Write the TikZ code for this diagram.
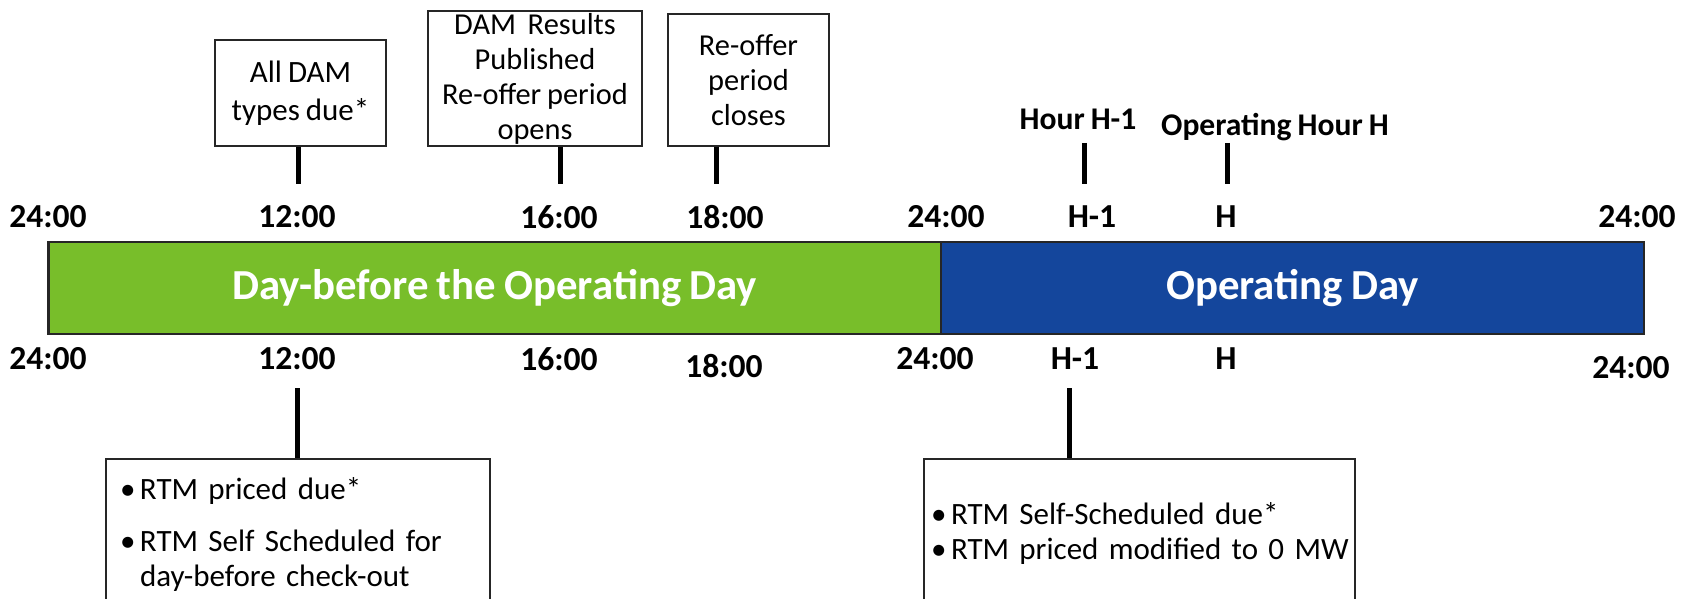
\documentclass[tikz,border=0pt]{standalone}
\usepackage{fontspec}
\setmainfont{Carlito}[WordSpace=0.85]
\usetikzlibrary{positioning}
\definecolor{daygreen}{RGB}{120,190,42}
\definecolor{opblue}{RGB}{20,70,156}
\newcommand\notebullet{\makebox[10.5pt][l]{\hspace{0.5pt}\textbullet}}

\begin{document}
\begin{tikzpicture}[
    x=0.5pt, y=-0.5pt,
    stamp/.style={%
        font=\fontsize{16.8}{20}\selectfont\bfseries, inner sep=0pt},
    hourlbl/.style={%
        font=\fontsize{15.8}{18}\selectfont\bfseries, inner sep=0pt, anchor=base},
    event/.style={%
        draw=black!85, line width=1pt, align=center, inner sep=0pt,
        font=\fontsize{15.2}{17.5}\selectfont},
    rtmnote/.style={%
        draw=black!85, line width=1pt, anchor=north, align=left,
        inner xsep=6.5pt, font=\fontsize{15.5}{17.5}\selectfont},
    dayband/.style={%
        draw=black!85, line width=1.2pt, inner sep=0pt,
        minimum height=46pt, text=white,
        font=\fontsize{21.4}{24}\selectfont\bfseries},
    tickline/.style={line width=2.5pt},
]
    \useasboundingbox (0,0) rectangle (1692,599);

    %DAM events
    \node[event, minimum width=85.5pt, minimum height=53pt,
        font=\fontsize{15.5}{19}\selectfont] (damdue) at (300.5,93) {All DAM\\types due*};
    \node[event, minimum width=107pt, minimum height=67.5pt] (damres) at (535,78.5)
        {DAM~ Results\\Published\\Re-offer period\\opens};
    \node[event, minimum width=80.5pt, minimum height=66pt] (reoffer) at (748.5,80)
        {Re-offer\\period\\closes};

    %Hours
    \node[hourlbl] (hourhm) at (1078,130) {Hour H-1};
    \node[hourlbl] (hourop) at (1275,135) {Operating Hour H};

    %Days
    \node[dayband, fill=daygreen, minimum width=446.2pt] (dayahead) at (494.8,288)
        {Day-before the Operating Day};
    \node[dayband, fill=opblue, minimum width=351.5pt] (opday) at (1292.5,288)
        {Operating Day};

    %Times
    \foreach \name/\x/\t in {a/48/24:00, b/297/12:00, c/559/16:00, d/725/18:00,
        e/946/24:00, f/1092/H-1, g/1226/H, h/1637/24:00}
        \node[stamp] (top-\name) at (\x,217) {\t};
    \foreach \name/\x/\y/\t in {a/48/359/24:00, b/297/359/12:00, c/559/359/16:00,
        d/724/366/18:00, e/935/359/24:00, f/1075/359/H-1, g/1226/359/H,
        h/1631/368/24:00}
        \node[stamp] (bot-\name) at (\x,\y) {\t};

    %RTM notes
    \node[rtmnote, text width=179pt, inner ysep=9pt] (rtmday) at (298,458)
        {\notebullet RTM priced due*\\[8.5pt]
         \notebullet RTM Self Scheduled for\\
         \hspace*{10.5pt}day-before check-out};
    \node[rtmnote, text width=209.5pt, inner xsep=3pt, inner ysep=21.6pt] (rtmhour) at (1139.5,458)
        {\mbox{\notebullet RTM Self-Scheduled due*}\\
         \mbox{\notebullet RTM priced modified to 0 MW}};

    %Ticks
    \coordinate (k12) at (298.6,184);
    \coordinate (k16) at (560,184);
    \coordinate (k18) at (716.5,184);
    \coordinate (khm) at (1084,184);
    \coordinate (kop) at (1227.5,184);
    \draw[tickline] (damdue.south -| k12) -- (k12);
    \draw[tickline] (damres.south -| k16) -- (k16);
    \draw[tickline] (reoffer.south -| k18) -- (k18);
    \draw[tickline, shorten <=6.5pt] (hourhm.base -| khm) -- (khm);
    \draw[tickline, shorten <=4pt] (hourop.base -| kop) -- (kop);

    \coordinate (r12) at (297,388);
    \coordinate (rhm) at (1069,388);
    \draw[tickline] (r12) -- (r12 |- rtmday.north);
    \draw[tickline] (rhm) -- (rhm |- rtmhour.north);
\end{tikzpicture}
\end{document}
